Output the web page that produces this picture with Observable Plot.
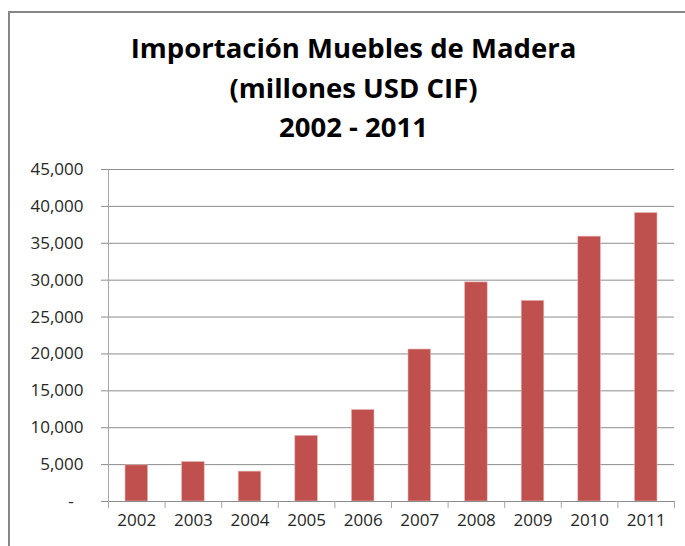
<!DOCTYPE html>
<html>
<head>
<meta charset="utf-8">
<script src="https://cdn.jsdelivr.net/npm/d3@7"></script>
<script src="https://cdn.jsdelivr.net/npm/@observablehq/plot@0.6"></script>
<style>
  html, body { margin: 0; padding: 0; background: white; }
  #wrap { position: relative; width: 685px; height: 546px; overflow: hidden; background: white; }
  #frame { position: absolute; left: 8px; top: 11px; width: 720px; height: 600px; border: 2px solid #868686; box-sizing: border-box; pointer-events: none; }
  #title { position: absolute; left: 0; top: 28px; width: 707px; text-align: center; font-family: "Open Sans", sans-serif; font-weight: 700; font-size: 27.5px; line-height: 39.5px; color: #000; }
  #chart { position: absolute; left: 0; top: 0; }
</style>
</head>
<body>
<div id="wrap">
  <div id="chart"></div>
  <div id="title"></div>
  <div id="frame"></div>
</div>
<script>
const titleLines = ["Importación Muebles de Madera", "(millones USD CIF)", "2002 - 2011"];
const years = [2002, 2003, 2004, 2005, 2006, 2007, 2008, 2009, 2010, 2011];
const values = [4900, 5350, 4050, 8900, 12400, 20600, 29700, 27200, 35900, 39100];
const yTicks = [0, 5000, 10000, 15000, 20000, 25000, 30000, 35000, 40000, 45000];

document.getElementById("title").innerHTML = titleLines.map(t => `<div>${t}</div>`).join("");

const data = years.map((year, i) => ({year, value: values[i]}));
const bounds = [years[0] - 0.5, ...years.map(y => y + 0.5)];
const fmt = d3.format(",");

const chart = Plot.plot({
  width: 685,
  height: 546,
  marginTop: 169,
  marginBottom: 45,
  marginLeft: 108,
  marginRight: 11,
  style: {background: "transparent", fontFamily: "Open Sans, sans-serif", fontSize: "17px", color: "#262626"},
  x: {domain: [bounds[0], bounds[bounds.length - 1]]},
  y: {domain: [0, 45000]},
  marks: [
    Plot.ruleY(yTicks, {stroke: "#8c8c8c", strokeWidth: 1}),
    Plot.rectY(data, {
      x1: d => d.year - 0.5, x2: d => d.year + 0.5, y: "value",
      insetLeft: 17, insetRight: 17,
      fill: "#c0504d", stroke: "#e6b9b8", strokeWidth: 0.6
    }),
    Plot.ruleX([bounds[0]], {stroke: "#a6a6a6", strokeWidth: 1}),
    Plot.ruleY([0], {stroke: "#8c8c8c", strokeWidth: 1}),
    Plot.axisY({
      ticks: yTicks, tickSize: 7, tickPadding: 18, stroke: "#8c8c8c",
      tickFormat: d => d === 0 ? "-\u2007" : fmt(d), fill: "#262626", label: null
    }),
    Plot.axisX({
      ticks: bounds, tickSize: 7, tickFormat: () => "", stroke: "#a6a6a6", label: null
    }),
    Plot.axisX({
      ticks: years, tickSize: 0, tickPadding: 12, tickFormat: d => String(d), fill: "#262626", label: null
    })
  ]
});
document.getElementById("chart").appendChild(chart);
</script>
</body>
</html>
